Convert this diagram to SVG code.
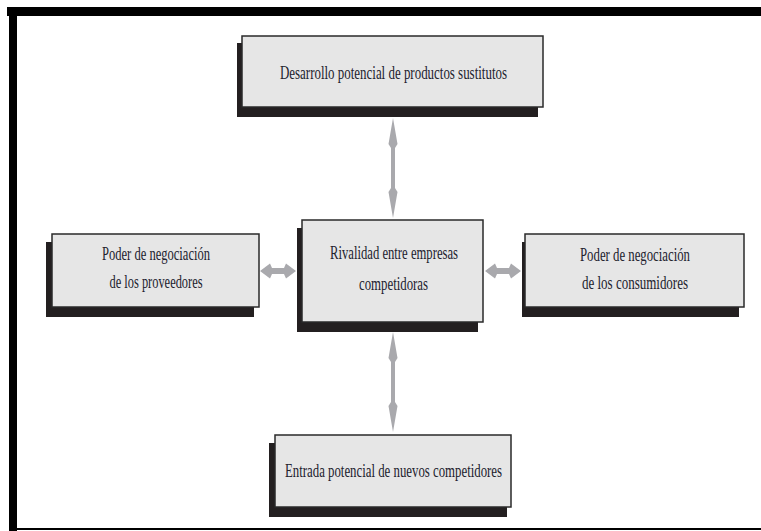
<svg xmlns="http://www.w3.org/2000/svg" width="761" height="531" viewBox="0 0 761 531">
<style>
.shadow{fill:#231f20}
.box{fill:#e6e6e6;stroke:#2a2a2a;stroke-width:1.5}
.t{font-family:"Liberation Serif","DejaVu Serif",serif;font-size:19.5px;fill:#22222e;text-anchor:middle}
.arr{fill:#a9a9ad}
</style>
<rect x="0" y="0" width="761" height="531" fill="#ffffff"/>
<g id="frame">
<rect x="7" y="7" width="754" height="9" fill="#000"/>
<rect x="9" y="7" width="8" height="524" fill="#000"/>
<rect x="9" y="528" width="752" height="2" fill="#000"/>
</g>
<g id="connectors">
<polygon class="arr" points="393,118 397.5,144 395,148 395,188 397.5,192 393,218 388.5,192 391,188 391,148 388.5,144"/>
<polygon class="arr" points="393,332 397.5,358 395,362 395,402 397.5,406 393,432 388.5,406 391,402 391,362 388.5,358"/>
<polygon class="arr" points="260,271 270,263.5 272,268 284,268 286,263.5 296,271 286,278.5 284,274 272,274 270,278.5"/>
<polygon class="arr" points="485,271 495,263.5 497,268 509,268 511,263.5 521,271 511,278.5 509,274 497,274 495,278.5"/>
</g>
<g id="node-sustitutos">
<rect class="shadow" x="237" y="43" width="301" height="74"/>
<rect class="box" x="242" y="36" width="301" height="71"/>
<text class="t" x="393.5" y="79" textLength="227" lengthAdjust="spacingAndGlyphs">Desarrollo potencial de productos sustitutos</text>
</g>
<g id="node-proveedores">
<rect class="shadow" x="46" y="242" width="208" height="75"/>
<rect class="box" x="52" y="234" width="207" height="73"/>
<text class="t" x="156" y="260" textLength="108" lengthAdjust="spacingAndGlyphs">Poder de negociación</text>
<text class="t" x="156" y="288" textLength="93" lengthAdjust="spacingAndGlyphs">de los proveedores</text>
</g>
<g id="node-rivalidad">
<rect class="shadow" x="297" y="228" width="181" height="104"/>
<rect class="box" x="302" y="220" width="181" height="102"/>
<text class="t" x="394" y="259" textLength="128" lengthAdjust="spacingAndGlyphs">Rivalidad entre empresas</text>
<text class="t" x="393.5" y="290" textLength="69" lengthAdjust="spacingAndGlyphs">competidoras</text>
</g>
<g id="node-consumidores">
<rect class="shadow" x="522" y="242" width="217" height="75"/>
<rect class="box" x="525" y="234" width="219" height="73"/>
<text class="t" x="635" y="261" textLength="110" lengthAdjust="spacingAndGlyphs">Poder de negociación</text>
<text class="t" x="635" y="289" textLength="106" lengthAdjust="spacingAndGlyphs">de los consumidores</text>
</g>
<g id="node-nuevos">
<rect class="shadow" x="269" y="443" width="238" height="74"/>
<rect class="box" x="275" y="435" width="236" height="72"/>
<text class="t" x="393.5" y="477" textLength="217" lengthAdjust="spacingAndGlyphs">Entrada potencial de nuevos competidores</text>
</g>
</svg>
